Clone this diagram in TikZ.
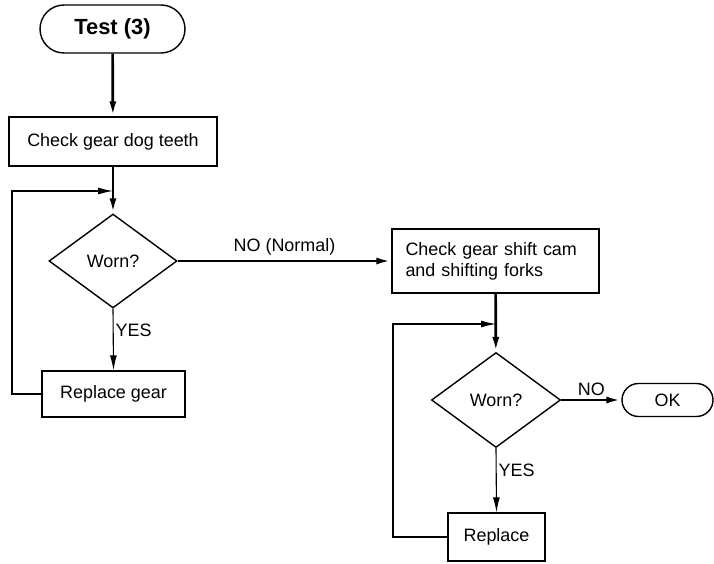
\documentclass[tikz,border=0pt]{standalone}
\usepackage{fontspec}
\setmainfont{Liberation Sans}
\usetikzlibrary{%
  arrows.meta,%
  shapes.misc,% wg. rounded rectangle
  shapes.geometric,% wg. diamond
  positioning%
}

\begin{document}
\begin{tikzpicture}[x=1bp,y=-1bp,
	>={Latex[length=15bp,width=7bp]},
	terminal/.style={
	rounded rectangle,line width=1.4bp,draw=black,
	inner sep=0pt
	},process/.style={
	rectangle,line width=1.4bp,draw=black,
	inner sep=0pt,font=\fontsize{18}{21}\selectfont
	},decision/.style={
	diamond,line width=1.4bp,draw=black,
	inner sep=0pt,font=\fontsize{18}{21}\selectfont
	},flow/.style={
	->,line width=2.7bp
	},loop/.style={
	line width=1.1bp
	},answer/.style={
	font=\fontsize{18}{21}\selectfont,inner sep=1bp
	}
]
\useasboundingbox (0,0) rectangle (714,564);

% left column
\node (test) [terminal,minimum width=145bp,minimum height=48bp,
	font=\fontsize{22}{26}\selectfont\bfseries] at (112.5,29) {Test (3)};
\node (checkTeeth) [process,minimum width=208bp,minimum height=49bp] at (113,141.5) {Check gear dog teeth};
\node (wornGear) [decision,minimum width=128bp,minimum height=94bp] at (113,261) {Worn?};
\node (replaceGear) [process,minimum width=143bp,minimum height=46bp] at (113.5,394) {Replace gear};
\coordinate (joinA) at (113,191);

% right column
\node (checkCam) [process,minimum width=207bp,minimum height=64bp,
	text width=180bp,align=left] at (495.5,261) {Check gear shift cam\\and shifting forks};
\node (wornCam) [decision,minimum width=129bp,minimum height=95bp] at (496,400) {Worn?};
\node (ok) [terminal,minimum width=91bp,minimum height=33bp,
	font=\fontsize{18}{21}\selectfont] at (667.5,400) {OK};
\node (replaceCam) [process,minimum width=97bp,minimum height=48bp] at (496.5,537) {Replace};
\coordinate (joinB) at (496,324);

% main flow
\draw[flow] (test) -- (checkTeeth);
\draw[flow] (checkTeeth) -- (wornGear);
\draw[flow] (wornGear.east) -- node[answer,above=3bp] {NO (Normal)} (checkCam.west);
\draw[flow] (checkCam) -- (wornCam);
\draw[flow] (wornCam.east) -- node[answer,above=2bp] {NO} (ok.west);

% YES branches
\draw[->,loop] (wornGear.south) -- node[answer,right=1bp,pos=0.35] {YES} (replaceGear.north);
\draw[->,loop] (wornCam.south) -- node[answer,right=1bp,pos=0.35] {YES} (replaceCam.north);

% back to the test after replacing
\draw[->,loop] (replaceGear.west) -| (12,191) -- (joinA);
\draw[->,loop] (replaceCam.west) -| (393,324) -- (joinB);

\end{tikzpicture}
\end{document}
